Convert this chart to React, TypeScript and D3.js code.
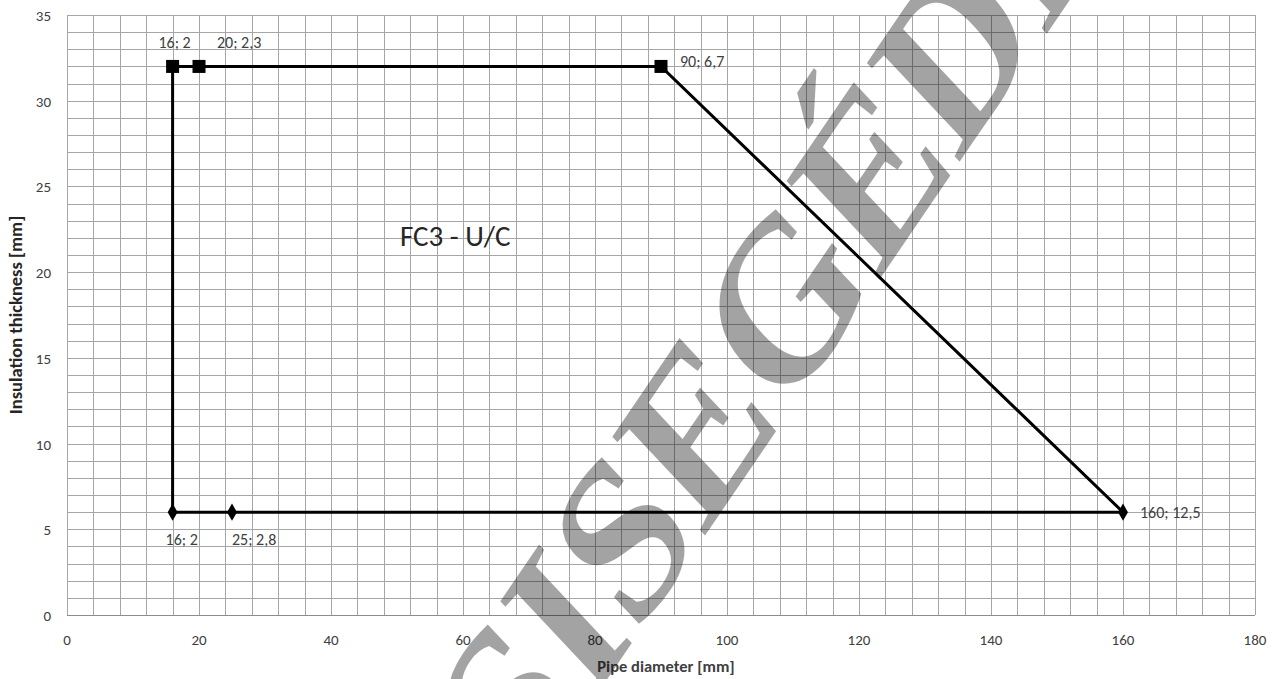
import React from "react";
import * as d3 from "d3";

// ---- data ----
const xTicks = [0, 20, 40, 60, 80, 100, 120, 140, 160, 180];
const yTicks = [0, 5, 10, 15, 20, 25, 30, 35];
// outline path of the region (pipe diameter, insulation thickness)
const outlineX = [16, 16, 20, 90, 160, 25, 16];
const outlineY = [6, 32, 32, 32, 6, 6, 6];
// upper series (square markers)
const upperX = [16, 20, 90];
const upperY = [32, 32, 32];
const upperLabels = ["16; 2", "20; 2,3", "90; 6,7"];
// lower series (diamond markers)
const lowerX = [16, 25, 160];
const lowerY = [6, 6, 6];
const lowerLabels = ["16; 2", "25; 2,8", "160; 12,5"];
const regionLabel = "FC3 - U/C";
const xTitle = "Pipe diameter [mm]";
const yTitle = "Insulation thickness [mm]";
const watermarkBefore = "TERVEZÉSI ";
const watermarkAfter = "SEGÉDLET";

const W = 1278;
const H = 679;
const FONT = "Carlito, Lato, 'Open Sans', sans-serif";

export default function App() {
  const x = d3.scaleLinear().domain([0, 180]).range([67, 1255]);
  const y = d3.scaleLinear().domain([0, 35]).range([615, 15]);

  const xGrid = d3.range(0, 181, 4);
  const yGrid = d3.range(0, 36, 1);

  const line = d3
    .line<number>()
    .x((i) => x(outlineX[i]))
    .y((i) => y(outlineY[i]));
  const outlinePath = line(d3.range(outlineX.length)) || "";

  const sq = 13;
  const diamond = d3.symbol().type(d3.symbolDiamond).size(85)() || "";

  const upperOffsets = [
    { dx: 2, dy: -18, anchor: "middle" },
    { dx: 18, dy: -18, anchor: "start" },
    { dx: 19, dy: 1, anchor: "start" },
  ];
  const lowerOffsets = [
    { dx: -7, dy: 33, anchor: "start" },
    { dx: 0, dy: 33, anchor: "start" },
    { dx: 17, dy: 6, anchor: "start" },
  ];

  const wmX = 636;
  const wmY = 637;

  return (
    <svg
      width={W}
      height={H}
      style={{ position: "absolute", left: 0, top: 0, background: "#fff" }}
      fontFamily={FONT}
    >
      <rect x={0} y={0} width={W} height={H} fill="#fff" />
      {/* grid */}
      <g stroke="#a6a6a6" strokeWidth={1}>
        {xGrid.map((v) => (
          <line
            key={"gx" + v}
            x1={Math.round(x(v)) + 0.5}
            x2={Math.round(x(v)) + 0.5}
            y1={y(35)}
            y2={y(0)}
          />
        ))}
        {yGrid.map((v) => (
          <line
            key={"gy" + v}
            x1={x(0)}
            x2={x(180)}
            y1={Math.round(y(v)) + 0.5}
            y2={Math.round(y(v)) + 0.5}
          />
        ))}
      </g>
      <line x1={x(0)} x2={x(180)} y1={Math.round(y(0)) + 0.5} y2={Math.round(y(0)) + 0.5} stroke="#8c8c8c" />

      {/* tick labels */}
      <g fill="#404040" fontSize={15}>
        {xTicks.map((v) => (
          <text key={"xt" + v} x={x(v)} y={645} textAnchor="middle">
            {v}
          </text>
        ))}
        {yTicks.map((v) => (
          <text key={"yt" + v} x={51} y={y(v) + 6} textAnchor="end">
            {v}
          </text>
        ))}
      </g>

      {/* axis titles */}
      <text x={666} y={672} textAnchor="middle" fontSize={16.5} fontWeight="bold" fill="#404040">
        {xTitle}
      </text>
      <text
        transform={`translate(22,${315}) rotate(-90)`}
        textAnchor="middle"
        fontSize={18.5}
        fontWeight="bold"
        fill="#262626"
      >
        {yTitle}
      </text>

      {/* outline */}
      <path d={outlinePath} fill="none" stroke="#000" strokeWidth={3} strokeLinejoin="miter" />

      {/* markers */}
      {upperX.map((v, i) => (
        <rect
          key={"sq" + i}
          x={x(v) - sq / 2}
          y={y(upperY[i]) - sq / 2}
          width={sq}
          height={sq}
          fill="#000"
        />
      ))}
      {lowerX.map((v, i) => (
        <path key={"dm" + i} d={diamond} transform={`translate(${x(v)},${y(lowerY[i])})`} fill="#000" />
      ))}

      {/* data labels */}
      <g fill="#404040" fontSize={16}>
        {upperX.map((v, i) => (
          <text
            key={"ul" + i}
            x={x(v) + upperOffsets[i].dx}
            y={y(upperY[i]) + upperOffsets[i].dy}
            textAnchor={upperOffsets[i].anchor}
          >
            {upperLabels[i]}
          </text>
        ))}
        {lowerX.map((v, i) => (
          <text
            key={"ll" + i}
            x={x(v) + lowerOffsets[i].dx}
            y={y(lowerY[i]) + lowerOffsets[i].dy}
            textAnchor={lowerOffsets[i].anchor}
          >
            {lowerLabels[i]}
          </text>
        ))}
      </g>

      <text x={400} y={246} fontSize={29} fill="#262626">
        {regionLabel}
      </text>

      {/* watermark */}
      <g
        transform={`translate(${wmX},${wmY}) scale(1,1.25) rotate(-49.6)`}
        fontFamily="'Liberation Serif', 'DejaVu Serif', serif"
        fontSize={186}
        fontWeight="bold"
        fill="#000"
        fillOpacity={0.36}
      >
        <text x={0} y={0} textAnchor="end">
          {watermarkBefore}
        </text>
        <text x={0} y={0} textAnchor="start">
          {watermarkAfter}
        </text>
      </g>
    </svg>
  );
}
